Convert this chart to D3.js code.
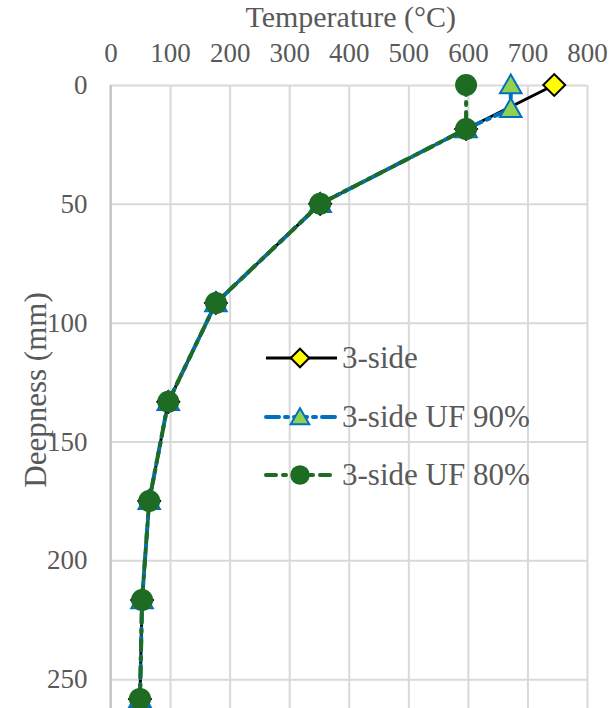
<!DOCTYPE html>
<html>
<head>
<meta charset="utf-8">
<script src="https://cdn.jsdelivr.net/npm/d3@7"></script>
<style>
  html, body { margin: 0; padding: 0; background: #fff; }
  text { font-family: "Liberation Serif", "Times New Roman", serif; fill: #595959; }
</style>
</head>
<body>
<svg id="chart" width="616" height="708"></svg>
<script>
// values
const depthTicks = [0, 50, 100, 150, 200, 250];
const tempTicks = [0, 100, 200, 300, 400, 500, 600, 700, 800];

const depth3side = [0, 18.5, 50, 91.7, 133.3, 175, 216.7, 258.3];
const temp3side = [745, 597, 352, 177, 97, 65, 53, 49.5];

const depthUF90 = [0, 10, 18.5, 50, 91.7, 133.3, 175, 216.7, 258.3];
const tempUF90 = [672, 672, 597, 352, 177, 97, 65, 53, 49.5];

const depthUF80 = [0, 18.5, 50, 91.7, 133.3, 175, 216.7, 258.3];
const tempUF80 = [597, 597, 352, 177, 97, 65, 53, 49.5];

const seriesNames = ['3-side', '3-side UF 90%', '3-side UF 80%'];

const plotLeft = 110.5;
const plotRight = 587;
const plotTop = 85;
const plotBottom = 798; // runs past the picture edge, as in the reference

const svg = d3.select('#chart');

const x = d3.scaleLinear().domain([0, 800]).range([plotLeft, plotRight]);
const y = d3.scaleLinear().domain([0, 300]).range([plotTop, plotBottom]);

const gridColor = '#d9d9d9';
const tickFont = 27;
const titleFont = 31;

// vertical gridlines + top tick labels
const xAxis = svg.append('g')
  .attr('transform', `translate(0,${plotTop})`)
  .call(d3.axisTop(x).tickValues(tempTicks).tickSize(-(plotBottom - plotTop)).tickPadding(23));
xAxis.select('.domain').remove();
xAxis.selectAll('.tick line').attr('stroke', gridColor).attr('stroke-width', 2);
xAxis.selectAll('.tick text')
  .attr('font-size', tickFont)
  .attr('fill', '#595959')
  .style('font-family', '"Liberation Serif", serif');

// horizontal gridlines + left tick labels
const yAxis = svg.append('g')
  .attr('transform', `translate(${plotLeft},0)`)
  .call(d3.axisLeft(y).tickValues(depthTicks).tickSize(-(plotRight - plotLeft)).tickPadding(23));
yAxis.select('.domain').remove();
yAxis.selectAll('.tick line').attr('stroke', gridColor).attr('stroke-width', 2);
yAxis.selectAll('.tick text')
  .attr('font-size', tickFont)
  .attr('fill', '#595959')
  .style('font-family', '"Liberation Serif", serif');

// left axis line
svg.append('line')
  .attr('x1', plotLeft).attr('x2', plotLeft)
  .attr('y1', plotTop).attr('y2', plotBottom)
  .attr('stroke', '#bfbfbf').attr('stroke-width', 2);

// axis titles
svg.append('text')
  .attr('x', (plotLeft + plotRight) / 2 + 2)
  .attr('y', 27)
  .attr('text-anchor', 'middle')
  .attr('font-size', 30)
  .text('Temperature (°C)');

svg.append('text')
  .attr('transform', 'translate(46,390) rotate(-90)')
  .attr('text-anchor', 'middle')
  .attr('font-size', titleFont)
  .text('Deepness (mm)');

const line = d3.line().x((d) => x(d[0])).y((d) => y(d[1]));

const styles = [
  { stroke: '#000000', width: 3, dash: null, marker: 'diamond', fill: '#ffff00', mstroke: '#000000' },
  { stroke: '#0070c0', width: 4, dash: '13 6 3 6', marker: 'triangle', fill: '#92d050', mstroke: '#0070c0' },
  { stroke: '#1e6b24', width: 4, dash: '10 7 3 7', marker: 'circle', fill: '#1e6b24', mstroke: '#1e6b24' },
];

const seriesData = [
  d3.zip(temp3side, depth3side),
  d3.zip(tempUF90, depthUF90),
  d3.zip(tempUF80, depthUF80),
];

const symbolFor = (kind, size) => {
  if (kind === 'diamond') return d3.symbol().type(d3.symbolSquare).size(size)();
  if (kind === 'triangle') return d3.symbol().type(d3.symbolTriangle).size(size)();
  return d3.symbol().type(d3.symbolCircle).size(size)();
};
const symbolSize = { diamond: 240, triangle: 200, circle: 380 };
const legendSize = { diamond: 170, triangle: 150, circle: 300 };

const drawMarker = (g, st, px, py, size) => {
  g.append('path')
    .attr('d', symbolFor(st.marker, size))
    .attr('transform', `translate(${px},${py + (st.marker === 'triangle' ? 2 : 0)})` + (st.marker === 'diamond' ? ' rotate(45)' : ''))
    .attr('fill', st.fill)
    .attr('stroke', st.mstroke)
    .attr('stroke-width', st.marker === 'circle' ? 0 : 2)
    .attr('stroke-linejoin', 'miter');
};

seriesData.forEach((data, i) => {
  const st = styles[i];
  const g = svg.append('g');
  g.append('path')
    .datum(data)
    .attr('d', line)
    .attr('fill', 'none')
    .attr('stroke', st.stroke)
    .attr('stroke-width', st.width)
    .attr('stroke-dasharray', st.dash)
    .attr('stroke-linecap', st.dash ? 'round' : 'butt')
    .attr('stroke-linejoin', 'round');
  data.forEach((d) => drawMarker(g, st, x(d[0]), y(d[1]), symbolSize[st.marker]));
});

// legend
const legendRows = [358, 417, 475];
seriesNames.forEach((name, i) => {
  const st = styles[i];
  const g = svg.append('g');
  g.append('line')
    .attr('x1', 266).attr('x2', 337)
    .attr('y1', legendRows[i]).attr('y2', legendRows[i])
    .attr('stroke', st.stroke)
    .attr('stroke-width', st.width)
    .attr('stroke-dasharray', st.dash)
    .attr('stroke-linecap', st.dash ? 'round' : 'butt');
  drawMarker(g, st, 300, legendRows[i], legendSize[st.marker]);
  g.append('text')
    .attr('x', 342)
    .attr('y', legendRows[i] + 10)
    .attr('font-size', titleFont)
    .text(name);
});
</script>
</body>
</html>
